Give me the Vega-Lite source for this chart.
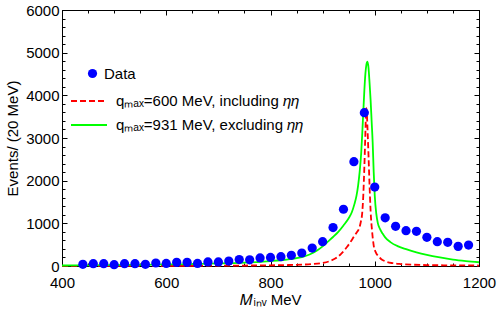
{
  "$schema": "https://vega.github.io/schema/vega-lite/v6.json",
  "width": 417,
  "height": 256,
  "autosize": {"type": "none"},
  "padding": {"left": 62, "top": 10, "right": 19, "bottom": 47},
  "background": "white",
  "config": {
    "font": "Liberation Sans",
    "view": {"stroke": "black", "strokeWidth": 1},
    "axis": {
      "domain": false, "grid": false, "tickColor": "black", "tickWidth": 1,
      "labelColor": "black", "labelFont": "Liberation Sans", "labelFontSize": 15, "labelFlush": false,
      "titleFont": "Liberation Sans", "titleFontSize": 15, "titleFontWeight": "normal", "titleColor": "black"
    },
    "legend": {
      "orient": "none", "padding": 0,
      "labelFont": "Liberation Sans", "labelFontSize": 15, "labelColor": "black", "labelLimit": 400
    }
  },
  "datasets": {
    "points": [
      {"m": 440, "events": 40, "series": "Data"},
      {"m": 460, "events": 55, "series": "Data"},
      {"m": 480, "events": 55, "series": "Data"},
      {"m": 500, "events": 30, "series": "Data"},
      {"m": 520, "events": 55, "series": "Data"},
      {"m": 540, "events": 55, "series": "Data"},
      {"m": 560, "events": 40, "series": "Data"},
      {"m": 580, "events": 70, "series": "Data"},
      {"m": 600, "events": 60, "series": "Data"},
      {"m": 620, "events": 85, "series": "Data"},
      {"m": 640, "events": 85, "series": "Data"},
      {"m": 660, "events": 60, "series": "Data"},
      {"m": 680, "events": 95, "series": "Data"},
      {"m": 700, "events": 95, "series": "Data"},
      {"m": 720, "events": 115, "series": "Data"},
      {"m": 740, "events": 150, "series": "Data"},
      {"m": 760, "events": 145, "series": "Data"},
      {"m": 780, "events": 190, "series": "Data"},
      {"m": 800, "events": 200, "series": "Data"},
      {"m": 820, "events": 218, "series": "Data"},
      {"m": 840, "events": 250, "series": "Data"},
      {"m": 860, "events": 305, "series": "Data"},
      {"m": 880, "events": 420, "series": "Data"},
      {"m": 900, "events": 570, "series": "Data"},
      {"m": 920, "events": 900, "series": "Data"},
      {"m": 940, "events": 1330, "series": "Data"},
      {"m": 960, "events": 2445, "series": "Data"},
      {"m": 980, "events": 3593, "series": "Data"},
      {"m": 1000, "events": 1850, "series": "Data"},
      {"m": 1020, "events": 1130, "series": "Data"},
      {"m": 1040, "events": 930, "series": "Data"},
      {"m": 1060, "events": 827, "series": "Data"},
      {"m": 1080, "events": 812, "series": "Data"},
      {"m": 1100, "events": 672, "series": "Data"},
      {"m": 1120, "events": 570, "series": "Data"},
      {"m": 1140, "events": 555, "series": "Data"},
      {"m": 1160, "events": 460, "series": "Data"},
      {"m": 1180, "events": 490, "series": "Data"}
    ],
    "red": [
      {"m": 400, "events": 2, "series": "q600"},
      {"m": 500, "events": 3, "series": "q600"},
      {"m": 600, "events": 5, "series": "q600"},
      {"m": 700, "events": 8, "series": "q600"},
      {"m": 750, "events": 11, "series": "q600"},
      {"m": 800, "events": 16, "series": "q600"},
      {"m": 830, "events": 22, "series": "q600"},
      {"m": 860, "events": 32, "series": "q600"},
      {"m": 880, "events": 45, "series": "q600"},
      {"m": 900, "events": 72, "series": "q600"},
      {"m": 915, "events": 120, "series": "q600"},
      {"m": 925, "events": 180, "series": "q600"},
      {"m": 935, "events": 280, "series": "q600"},
      {"m": 947, "events": 450, "series": "q600"},
      {"m": 955, "events": 590, "series": "q600"},
      {"m": 960, "events": 690, "series": "q600"},
      {"m": 965, "events": 780, "series": "q600"},
      {"m": 970, "events": 880, "series": "q600"},
      {"m": 973, "events": 1020, "series": "q600"},
      {"m": 976, "events": 1250, "series": "q600"},
      {"m": 978, "events": 1650, "series": "q600"},
      {"m": 980, "events": 2300, "series": "q600"},
      {"m": 982, "events": 3100, "series": "q600"},
      {"m": 983, "events": 3500, "series": "q600"},
      {"m": 984, "events": 3700, "series": "q600"},
      {"m": 985, "events": 3550, "series": "q600"},
      {"m": 986, "events": 3250, "series": "q600"},
      {"m": 988, "events": 2600, "series": "q600"},
      {"m": 990, "events": 1900, "series": "q600"},
      {"m": 992, "events": 1300, "series": "q600"},
      {"m": 995, "events": 800, "series": "q600"},
      {"m": 998, "events": 480, "series": "q600"},
      {"m": 1002, "events": 320, "series": "q600"},
      {"m": 1007, "events": 230, "series": "q600"},
      {"m": 1012, "events": 165, "series": "q600"},
      {"m": 1020, "events": 110, "series": "q600"},
      {"m": 1035, "events": 65, "series": "q600"},
      {"m": 1050, "events": 45, "series": "q600"},
      {"m": 1075, "events": 30, "series": "q600"},
      {"m": 1100, "events": 22, "series": "q600"},
      {"m": 1150, "events": 15, "series": "q600"},
      {"m": 1200, "events": 11, "series": "q600"}
    ],
    "green": [
      {"m": 400, "events": 12, "series": "q931"},
      {"m": 450, "events": 16, "series": "q931"},
      {"m": 500, "events": 22, "series": "q931"},
      {"m": 550, "events": 28, "series": "q931"},
      {"m": 600, "events": 36, "series": "q931"},
      {"m": 650, "events": 46, "series": "q931"},
      {"m": 700, "events": 60, "series": "q931"},
      {"m": 750, "events": 80, "series": "q931"},
      {"m": 780, "events": 98, "series": "q931"},
      {"m": 800, "events": 115, "series": "q931"},
      {"m": 820, "events": 135, "series": "q931"},
      {"m": 840, "events": 165, "series": "q931"},
      {"m": 860, "events": 210, "series": "q931"},
      {"m": 875, "events": 270, "series": "q931"},
      {"m": 890, "events": 370, "series": "q931"},
      {"m": 900, "events": 460, "series": "q931"},
      {"m": 910, "events": 570, "series": "q931"},
      {"m": 920, "events": 680, "series": "q931"},
      {"m": 930, "events": 800, "series": "q931"},
      {"m": 940, "events": 950, "series": "q931"},
      {"m": 950, "events": 1120, "series": "q931"},
      {"m": 956, "events": 1260, "series": "q931"},
      {"m": 961, "events": 1450, "series": "q931"},
      {"m": 965, "events": 1650, "series": "q931"},
      {"m": 968, "events": 1880, "series": "q931"},
      {"m": 971, "events": 2200, "series": "q931"},
      {"m": 974, "events": 2650, "series": "q931"},
      {"m": 976, "events": 3100, "series": "q931"},
      {"m": 978, "events": 3600, "series": "q931"},
      {"m": 980, "events": 4100, "series": "q931"},
      {"m": 982, "events": 4500, "series": "q931"},
      {"m": 984, "events": 4720, "series": "q931"},
      {"m": 986, "events": 4790, "series": "q931"},
      {"m": 988, "events": 4650, "series": "q931"},
      {"m": 990, "events": 4300, "series": "q931"},
      {"m": 992, "events": 3900, "series": "q931"},
      {"m": 994, "events": 3400, "series": "q931"},
      {"m": 996, "events": 2900, "series": "q931"},
      {"m": 998, "events": 2200, "series": "q931"},
      {"m": 1000, "events": 1650, "series": "q931"},
      {"m": 1003, "events": 1220, "series": "q931"},
      {"m": 1006, "events": 1000, "series": "q931"},
      {"m": 1010, "events": 870, "series": "q931"},
      {"m": 1015, "events": 760, "series": "q931"},
      {"m": 1020, "events": 670, "series": "q931"},
      {"m": 1030, "events": 560, "series": "q931"},
      {"m": 1045, "events": 460, "series": "q931"},
      {"m": 1060, "events": 395, "series": "q931"},
      {"m": 1080, "events": 320, "series": "q931"},
      {"m": 1100, "events": 260, "series": "q931"},
      {"m": 1125, "events": 200, "series": "q931"},
      {"m": 1150, "events": 150, "series": "q931"},
      {"m": 1175, "events": 115, "series": "q931"},
      {"m": 1200, "events": 88, "series": "q931"}
    ]
  },
  "layer": [
    {
      "data": {"name": "red"},
      "mark": {"type": "line", "color": "#ff0000", "strokeWidth": 1.8, "interpolate": "monotone"},
      "encoding": {
        "x": {"field": "m", "type": "quantitative", "scale": {"domain": [400, 1200], "nice": false},
              "axis": {"orient": "bottom", "values": [400,450,500,550,600,650,700,750,800,850,900,950,1000,1050,1100,1150,1200], "labels": false, "offset": -3, "tickSize": 3, "title": null}},
        "y": {"field": "events", "type": "quantitative", "scale": {"domain": [0, 6000], "nice": false},
              "axis": {"orient": "left", "values": [0,200,400,600,800,1000,1200,1400,1600,1800,2000,2200,2400,2600,2800,3000,3200,3400,3600,3800,4000,4200,4400,4600,4800,5000,5200,5400,5600,5800,6000], "labels": false, "offset": -3, "tickSize": 3, "title": null}},
        "strokeDash": {"field": "series", "type": "nominal", "scale": {"domain": ["q600"], "range": [[6, 3]]},
          "legend": {"title": null, "orient": "none", "legendX": 8, "legendY": 72, "symbolType": "stroke", "symbolSize": 1296, "symbolStrokeWidth": 2, "symbolStrokeColor": "#ff0000", "labelOffset": 8,
            "labelExpr": "'qₘₐₓ=600 MeV, including 𝜂𝜂'"}}
      }
    },
    {
      "data": {"name": "green"},
      "mark": {"type": "line", "color": "#00ff00", "strokeWidth": 1.8, "interpolate": "monotone"},
      "encoding": {
        "x": {"field": "m", "type": "quantitative", "scale": {"domain": [400, 1200], "nice": false},
              "axis": {"orient": "top", "values": [400,600,800,1000,1200], "labels": false, "offset": -5, "tickSize": 5, "title": null}},
        "y": {"field": "events", "type": "quantitative", "scale": {"domain": [0, 6000], "nice": false},
              "axis": {"orient": "right", "values": [0,1000,2000,3000,4000,5000,6000], "labels": false, "offset": -5, "tickSize": 5, "title": null}},
        "opacity": {"field": "series", "type": "nominal", "scale": {"domain": ["q931"], "range": [1]},
          "legend": {"title": null, "orient": "none", "legendX": 8, "legendY": 96, "symbolType": "stroke", "symbolSize": 1296, "symbolStrokeWidth": 2, "symbolStrokeColor": "#00ff00", "labelOffset": 8,
            "labelExpr": "'qₘₐₓ=931 MeV, excluding 𝜂𝜂'"}}
      }
    },
    {
      "data": {"name": "points"},
      "mark": {"type": "point", "filled": true, "color": "#0000ff", "size": 85, "opacity": 1},
      "encoding": {
        "x": {"field": "m", "type": "quantitative", "scale": {"domain": [400, 1200], "nice": false},
              "axis": {"orient": "bottom", "values": [400,600,800,1000,1200], "format": "d", "offset": -5, "tickSize": 5, "labelPadding": 9, "title": "𝑀ᵢₙᵥ MeV", "titlePadding": 2}},
        "y": {"field": "events", "type": "quantitative", "scale": {"domain": [0, 6000], "nice": false},
              "axis": {"orient": "left", "values": [0,1000,2000,3000,4000,5000,6000], "format": "d", "offset": -5, "tickSize": 5, "labelPadding": 3, "title": "Events/ (20 MeV)", "titlePadding": 5}},
        "shape": {"field": "series", "type": "nominal", "scale": {"domain": ["Data"], "range": ["circle"]},
          "legend": {"title": null, "orient": "none", "legendX": 23, "legendY": 56, "symbolSize": 85, "symbolFillColor": "#0000ff", "symbolStrokeWidth": 0, "labelOffset": 4}}
      }
    },
    {
      "data": {"name": "points"},
      "mark": {"type": "point", "filled": true, "color": "#0000ff", "size": 85, "opacity": 0},
      "encoding": {
        "x": {"field": "m", "type": "quantitative", "scale": {"domain": [400, 1200], "nice": false},
              "axis": {"orient": "top", "values": [400,450,500,550,600,650,700,750,800,850,900,950,1000,1050,1100,1150,1200], "labels": false, "offset": -3, "tickSize": 3, "title": null}},
        "y": {"field": "events", "type": "quantitative", "scale": {"domain": [0, 6000], "nice": false},
              "axis": {"orient": "right", "values": [0,200,400,600,800,1000,1200,1400,1600,1800,2000,2200,2400,2600,2800,3000,3200,3400,3600,3800,4000,4200,4400,4600,4800,5000,5200,5400,5600,5800,6000], "labels": false, "offset": -3, "tickSize": 3, "title": null}}
      }
    }
  ],
  "resolve": {"axis": {"x": "independent", "y": "independent"}}
}
